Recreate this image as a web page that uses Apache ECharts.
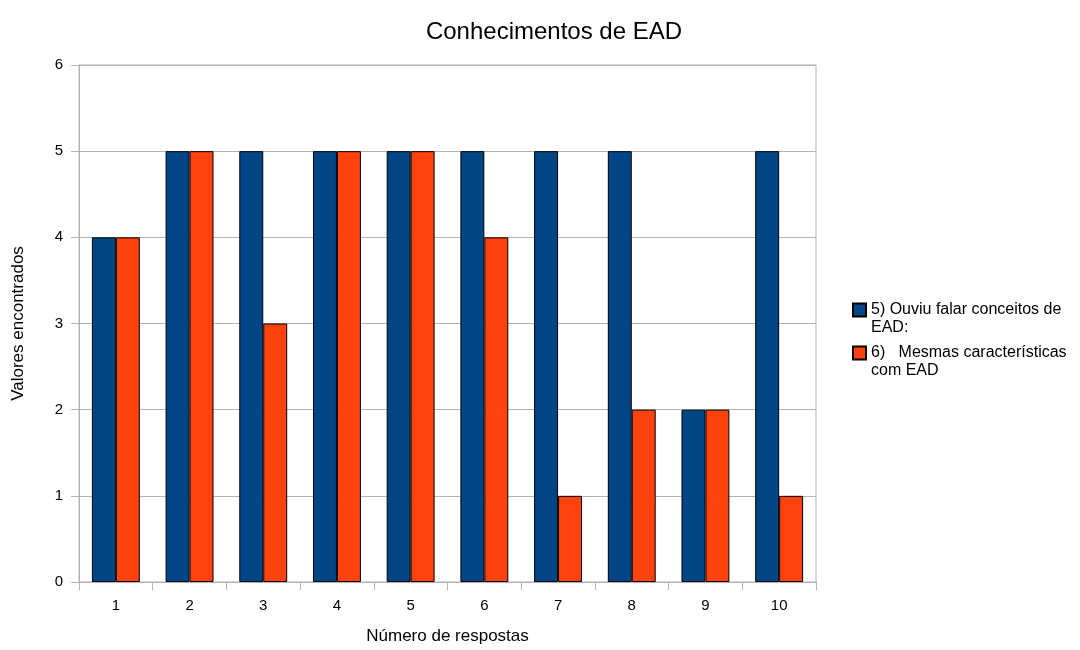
<!DOCTYPE html>
<html>
<head>
<meta charset="utf-8">
<script src="https://cdn.jsdelivr.net/npm/echarts@6/dist/echarts.min.js"></script>
<style>
  html, body { margin: 0; padding: 0; background: #ffffff; }
  #chart { width: 1080px; height: 650px; }
</style>
</head>
<body>
<div id="chart"></div>
<script>
// Response numbers on the x axis
const categories = ['1', '2', '3', '4', '5', '6', '7', '8', '9', '10'];

// Question 5: heard about distance-learning (EAD) concepts
const seriesOuviu = [4, 5, 5, 5, 5, 5, 5, 5, 2, 5];
// Question 6: same characteristics as EAD
const seriesMesmas = [4, 5, 3, 5, 5, 4, 1, 2, 2, 1];

const seriesNames = ['5) Ouviu falar conceitos de EAD:', '6)   Mesmas características com EAD'];
// A leading empty line keeps each square level with the first text line
const legendLabels = ['\n5) Ouviu falar conceitos de\nEAD:', '\n6)   Mesmas características\ncom EAD'];

const FONT = '"Liberation Sans", Arial, sans-serif';
const GRAY = '#b3b3b3';

const chart = echarts.init(document.getElementById('chart'), null, { renderer: 'canvas' });

chart.setOption({
  backgroundColor: '#ffffff',
  animation: false,
  title: {
    text: 'Conhecimentos de EAD',
    left: 549,
    top: 15,
    textAlign: 'center',
    textStyle: { fontFamily: FONT, fontSize: 24, fontWeight: 'normal', color: '#000000' }
  },
  legend: {
    orient: 'vertical',
    left: 847,
    top: 278,
    itemWidth: 13,
    itemHeight: 13,
    itemGap: -11,
    icon: 'rect',
    data: seriesNames,
    formatter: function (name) {
      return legendLabels[seriesNames.indexOf(name)];
    },
    textStyle: { fontFamily: FONT, fontSize: 16, color: '#000000', lineHeight: 18 }
  },
  grid: {
    left: 79,
    right: 264,
    top: 65,
    bottom: 67,
    show: true,
    borderColor: GRAY,
    borderWidth: 1,
    containLabel: false
  },
  xAxis: {
    type: 'category',
    data: categories,
    name: 'Número de respostas',
    nameLocation: 'middle',
    nameGap: 46,
    nameTextStyle: { fontFamily: FONT, fontSize: 17, color: '#000000' },
    axisLine: { show: true, lineStyle: { color: GRAY, width: 1 } },
    axisTick: { show: true, length: 8, alignWithLabel: false, lineStyle: { color: GRAY } },
    axisLabel: { fontFamily: FONT, fontSize: 15, color: '#000000', margin: 16 },
    splitLine: { show: false }
  },
  yAxis: {
    type: 'value',
    min: 0,
    max: 6,
    interval: 1,
    name: 'Valores encontrados',
    nameLocation: 'middle',
    nameGap: 52,
    nameRotate: 90,
    nameTextStyle: { fontFamily: FONT, fontSize: 17, color: '#000000' },
    axisLine: { show: true, lineStyle: { color: GRAY, width: 1 } },
    axisTick: { show: true, length: 8, lineStyle: { color: GRAY } },
    axisLabel: { fontFamily: FONT, fontSize: 15, color: '#000000', margin: 16 },
    splitLine: { show: true, lineStyle: { color: GRAY, width: 1 } }
  },
  series: [
    {
      name: seriesNames[0],
      type: 'bar',
      data: seriesOuviu,
      barGap: '0%',
      barCategoryGap: '35%',
      itemStyle: { color: '#004586', borderColor: '#000000', borderWidth: 1 }
    },
    {
      name: seriesNames[1],
      type: 'bar',
      data: seriesMesmas,
      barGap: '0%',
      barCategoryGap: '35%',
      itemStyle: { color: '#ff420e', borderColor: '#000000', borderWidth: 1 }
    }
  ]
});
</script>
</body>
</html>
